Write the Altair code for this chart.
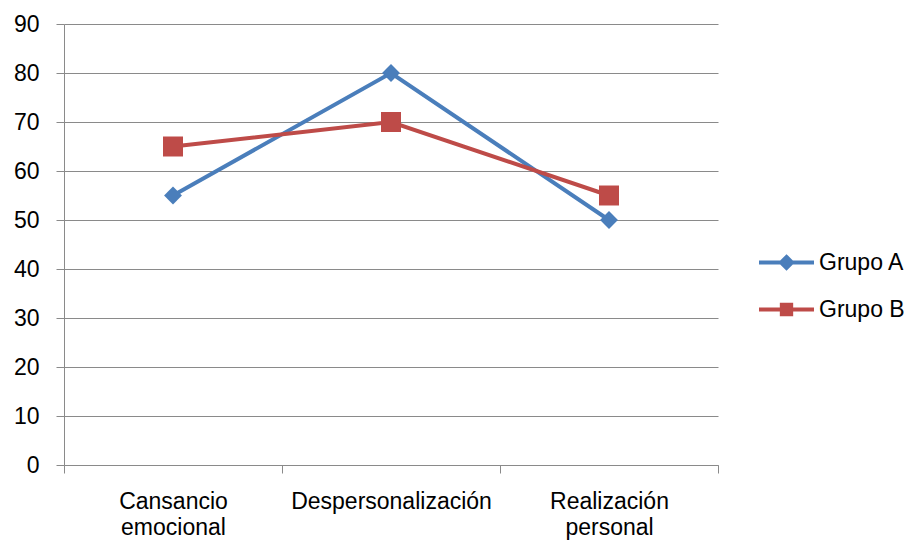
import altair as alt
import pandas as pd

categories = ["Cansancio emocional", "Despersonalización", "Realización personal"]
grupo_a = [55, 80, 50]
grupo_b = [65, 70, 55]
series = ["Grupo A", "Grupo B"]
colors = ["#4A7EBB", "#BE4B48"]
y_ticks = [0, 10, 20, 30, 40, 50, 60, 70, 80, 90]

rows = []
for c, a, b in zip(categories, grupo_a, grupo_b):
    rows.append({"cat": c, "grupo": "Grupo A", "valor": a})
    rows.append({"cat": c, "grupo": "Grupo B", "valor": b})
df = pd.DataFrame(rows)

FONT = "Liberation Sans"
GRID = "#8A8A8A"
FS = 23

x_enc = alt.X(
    "cat:N",
    sort=categories,
    bandPosition=0.5,
    scale=alt.Scale(type="band", paddingInner=0, paddingOuter=0),
    axis=alt.Axis(
        title=None,
        labelAngle=0,
        tickBand="extent",
        tickSize=8,
        tickColor=GRID,
        domainColor=GRID,
        labelFont=FONT,
        labelFontSize=FS,
        labelColor="#000000",
        labelPadding=17,
        labelBaseline="top",
        labelLineHeight=26,
        labelLimit=0,
        labelExpr="split(datum.label, ' ')",
        grid=False,
    ),
)
y_enc = alt.Y(
    "valor:Q",
    scale=alt.Scale(domain=[0, 90], nice=False),
    axis=alt.Axis(
        title=None,
        values=y_ticks,
        grid=True,
        gridColor=GRID,
        gridOpacity=1,
        tickSize=8,
        tickColor=GRID,
        domainColor=GRID,
        labelFont=FONT,
        labelFontSize=FS,
        labelColor="#000000",
        labelPadding=17,
    ),
)
color_enc = alt.Color(
    "grupo:N",
    scale=alt.Scale(domain=series, range=colors),
    legend=alt.Legend(title=None),
)

base = alt.Chart(df)

line = base.mark_line(strokeWidth=4).encode(x=x_enc, y=y_enc, color=color_enc)

pts_a = base.transform_filter(alt.datum.grupo == "Grupo A").mark_point(
    shape="diamond", filled=True, size=320, opacity=1, strokeWidth=0
).encode(x=x_enc, y=y_enc, color=color_enc)

pts_b = base.transform_filter(alt.datum.grupo == "Grupo B").mark_point(
    shape="square", filled=True, size=400, opacity=1, strokeWidth=0
).encode(x=x_enc, y=y_enc, color=color_enc)

path_a = "M-1,0H1M0,-0.2L0.2,0L0,0.2L-0.2,0Z"
path_b = "M-1,0H1M-0.17,-0.17H0.17V0.17H-0.17Z"

legend_layer = base.mark_point(filled=True, opacity=0).encode(
    x=x_enc,
    y=y_enc,
    color=color_enc,
    shape=alt.Shape(
        "grupo:N",
        scale=alt.Scale(domain=series, range=[path_a, path_b]),
        legend=alt.Legend(title=None),
    ),
)

chart = (
    alt.layer(line, pts_a, pts_b, legend_layer)
    .properties(
        width=654,
        height=441,
        autosize=alt.AutoSizeParams(type="none"),
        padding={"left": 56, "top": 16, "right": 189, "bottom": 90},
    )
    .configure_view(stroke=None)
    .configure_legend(
        orient="none",
        legendX=693,
        legendY=209,
        padding=0,
        symbolSize=3025,
        symbolStrokeWidth=4,
        symbolOpacity=1,
        labelFont=FONT,
        labelFontSize=FS,
        labelColor="#000000",
        labelOffset=3,
        rowPadding=4,
    )
)

chart.save("out.html", embed_options={"renderer": "svg", "actions": False})
